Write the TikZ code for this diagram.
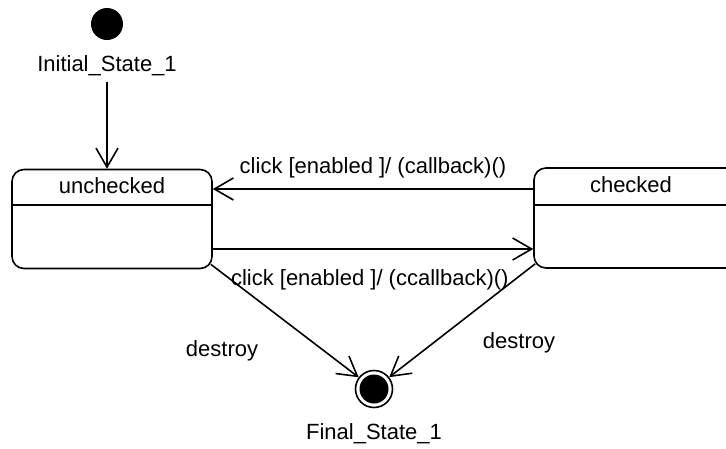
\documentclass[tikz,border=0pt]{standalone}
\usepackage{fontspec}
\setmainfont{Liberation Sans}
\usepackage{tikz}
\usetikzlibrary{arrows.meta, positioning, calc}

\begin{document}
\begin{tikzpicture}[x=1pt, y=-1pt,
  font=\fontsize{22}{26}\selectfont,
  state/.style={rectangle, draw, line width=1.6pt, rounded corners=12pt, minimum height=99pt},
  initial/.style={circle, fill, minimum size=32pt, inner sep=0pt},
  final/.style={circle, draw, line width=1.6pt, minimum size=37pt, inner sep=0pt,
    path picture={\fill (path picture bounding box.center) circle (14.5pt);}},
  trans/.style={line width=1.6pt, -{Straight Barb[length=19pt, width=22pt, line width=1.6pt]}}
]
  \clip (0,0) rectangle (726,448);

  % states
  \node[initial] (init) at (107,24) {};
  \node[below=12pt of init] (initlabel) {Initial\_State\_1};

  \node[state, minimum width=200pt] (unchecked) at (112,219) {};
  \node[below=5pt of unchecked.north] (uncheckedtitle) {unchecked};
  \draw[line width=1.6pt] ([yshift=-36pt]unchecked.north west) -- ([yshift=-36pt]unchecked.north east);

  \node[state, minimum width=212pt, minimum height=100pt] (checked) at (640,218) {};
  \node[below=6pt of checked.north, xshift=-9pt] (checkedtitle) {checked};
  \draw[line width=1.6pt] ([yshift=-38pt]checked.north west) -- ([yshift=-38pt]checked.north east);

  \node[final] (final) at (374,389) {};
  \node[below=12pt of final] (finallabel) {Final\_State\_1};

  % transitions
  \draw[trans] ([yshift=-2pt]initlabel.south) -- (unchecked.north -| initlabel);
  \draw[trans] ([yshift=29pt]checked.west) -- ([yshift=29pt]checked.west -| unchecked.east)
    node[pos=0.5, above=7pt] (clicktop) {click [enabled ]/ (callback)()};
  \draw[trans] ([yshift=-30pt]unchecked.east) -- ([yshift=-30pt]unchecked.east -| checked.west)
    node[pos=0.49, below=16pt] (clickbottom) {click [enabled ]/ (ccallback)()};
  \draw[trans] ([xshift=-2pt, yshift=5pt]unchecked.south east) -- (final);
  \draw[trans] ([xshift=2pt, yshift=5pt]checked.south west) -- (final);

  \node (destroyleft) at (222,351) {destroy};
  \node (destroyright) at (519,343) {destroy};
\end{tikzpicture}
\end{document}
